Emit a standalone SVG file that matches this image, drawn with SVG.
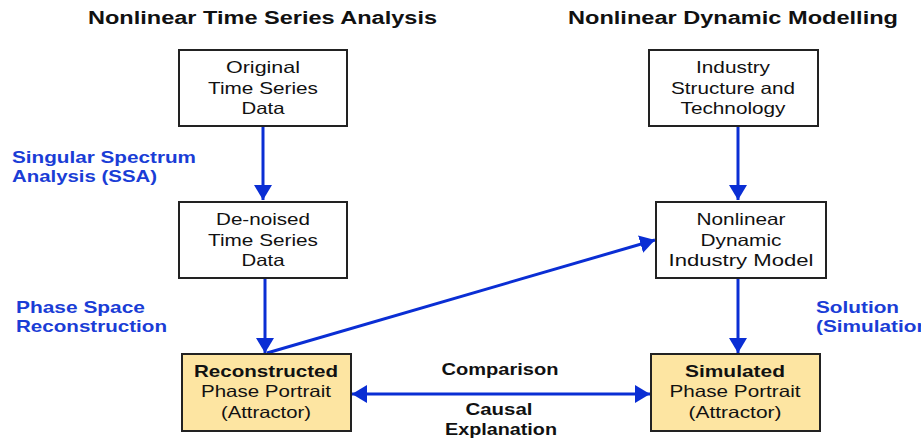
<svg xmlns="http://www.w3.org/2000/svg" width="921" height="444" viewBox="0 0 921 444">
<defs>
<marker id="ah" viewBox="0 0 10 12" refX="10" refY="6" markerWidth="5" markerHeight="6" orient="auto-start-reverse" markerUnits="strokeWidth">
<path d="M0,0 L10,6 L0,12 Z" fill="#0a2ed4"/>
</marker>
<style>
.box{fill:#fff;stroke:#222;stroke-width:2}
.ybox{fill:#fde5a2;stroke:#222;stroke-width:2}
.t{font-family:"Liberation Sans",Arial,sans-serif;font-size:16.5px;fill:#111;text-anchor:middle}
.b{font-weight:bold}
.title{font-family:"Liberation Sans",Arial,sans-serif;font-size:17.5px;font-weight:bold;fill:#111}
.lab{font-family:"Liberation Sans",Arial,sans-serif;font-size:16.5px;font-weight:bold;fill:#1a3dd6}
.blk{font-family:"Liberation Sans",Arial,sans-serif;font-size:16.5px;font-weight:bold;fill:#111;text-anchor:middle}
.c{stroke:#0a2ed4;stroke-width:3;fill:none}
</style>
</defs>
<rect width="921" height="444" fill="#fff"/>
<text class="title" x="88" y="24" textLength="349" lengthAdjust="spacingAndGlyphs">Nonlinear Time Series Analysis</text>
<text class="title" x="568" y="24" textLength="330" lengthAdjust="spacingAndGlyphs">Nonlinear Dynamic Modelling</text>
<text class="lab" x="12" y="163" textLength="184" lengthAdjust="spacingAndGlyphs">Singular Spectrum</text>
<text class="lab" x="12" y="182" textLength="145" lengthAdjust="spacingAndGlyphs">Analysis (SSA)</text>
<text class="lab" x="16" y="313" textLength="129" lengthAdjust="spacingAndGlyphs">Phase Space</text>
<text class="lab" x="16" y="332" textLength="151" lengthAdjust="spacingAndGlyphs">Reconstruction</text>
<text class="lab" x="816" y="313" textLength="83" lengthAdjust="spacingAndGlyphs">Solution</text>
<text class="lab" x="816" y="332" textLength="120" lengthAdjust="spacingAndGlyphs">(Simulation)</text>
<text class="blk" x="500" y="375" textLength="117" lengthAdjust="spacingAndGlyphs">Comparison</text>
<text class="blk" x="499" y="415" textLength="67" lengthAdjust="spacingAndGlyphs">Causal</text>
<text class="blk" x="501" y="435" textLength="112" lengthAdjust="spacingAndGlyphs">Explanation</text>
<g id="connectors">
<line class="c" x1="263" y1="126" x2="263" y2="200" marker-end="url(#ah)"/>
<line class="c" x1="265" y1="278" x2="265" y2="353" marker-end="url(#ah)"/>
<line class="c" x1="267" y1="353" x2="655" y2="240" marker-end="url(#ah)"/>
<line class="c" x1="738" y1="126" x2="738" y2="200" marker-end="url(#ah)"/>
<line class="c" x1="738" y1="278" x2="738" y2="353" marker-end="url(#ah)"/>
<line class="c" x1="352" y1="394" x2="650" y2="394" marker-start="url(#ah)" marker-end="url(#ah)"/>
</g>
<g id="n1"><rect class="box" x="179" y="50" width="168" height="76"/>
<text class="t" x="263" y="73" textLength="74" lengthAdjust="spacingAndGlyphs">Original</text><text class="t" x="263" y="94" textLength="110" lengthAdjust="spacingAndGlyphs">Time Series</text><text class="t" x="263" y="114" textLength="43" lengthAdjust="spacingAndGlyphs">Data</text></g>
<g id="n2"><rect class="box" x="179" y="202" width="168" height="76"/>
<text class="t" x="263" y="225" textLength="94" lengthAdjust="spacingAndGlyphs">De-noised</text><text class="t" x="263" y="246" textLength="110" lengthAdjust="spacingAndGlyphs">Time Series</text><text class="t" x="263" y="266" textLength="43" lengthAdjust="spacingAndGlyphs">Data</text></g>
<g id="n3"><rect class="ybox" x="182" y="354" width="169" height="77"/>
<text class="t b" x="266" y="377" textLength="144" lengthAdjust="spacingAndGlyphs">Reconstructed</text><text class="t" x="266" y="397" textLength="130" lengthAdjust="spacingAndGlyphs">Phase Portrait</text><text class="t" x="266" y="418" textLength="90" lengthAdjust="spacingAndGlyphs">(Attractor)</text></g>
<g id="n4"><rect class="box" x="649" y="50" width="169" height="76"/>
<text class="t" x="733" y="73" textLength="74" lengthAdjust="spacingAndGlyphs">Industry</text><text class="t" x="733" y="94" textLength="124" lengthAdjust="spacingAndGlyphs">Structure and</text><text class="t" x="733" y="114" textLength="105" lengthAdjust="spacingAndGlyphs">Technology</text></g>
<g id="n5"><rect class="box" x="656" y="202" width="170" height="76"/>
<text class="t" x="741" y="225" textLength="89" lengthAdjust="spacingAndGlyphs">Nonlinear</text><text class="t" x="741" y="246" textLength="81" lengthAdjust="spacingAndGlyphs">Dynamic</text><text class="t" x="741" y="266" textLength="145" lengthAdjust="spacingAndGlyphs">Industry Model</text></g>
<g id="n6"><rect class="ybox" x="651" y="354" width="169" height="77"/>
<text class="t b" x="735" y="377" textLength="100" lengthAdjust="spacingAndGlyphs">Simulated</text><text class="t" x="735" y="397" textLength="131" lengthAdjust="spacingAndGlyphs">Phase Portrait</text><text class="t" x="735" y="418" textLength="93" lengthAdjust="spacingAndGlyphs">(Attractor)</text></g>
</svg>
